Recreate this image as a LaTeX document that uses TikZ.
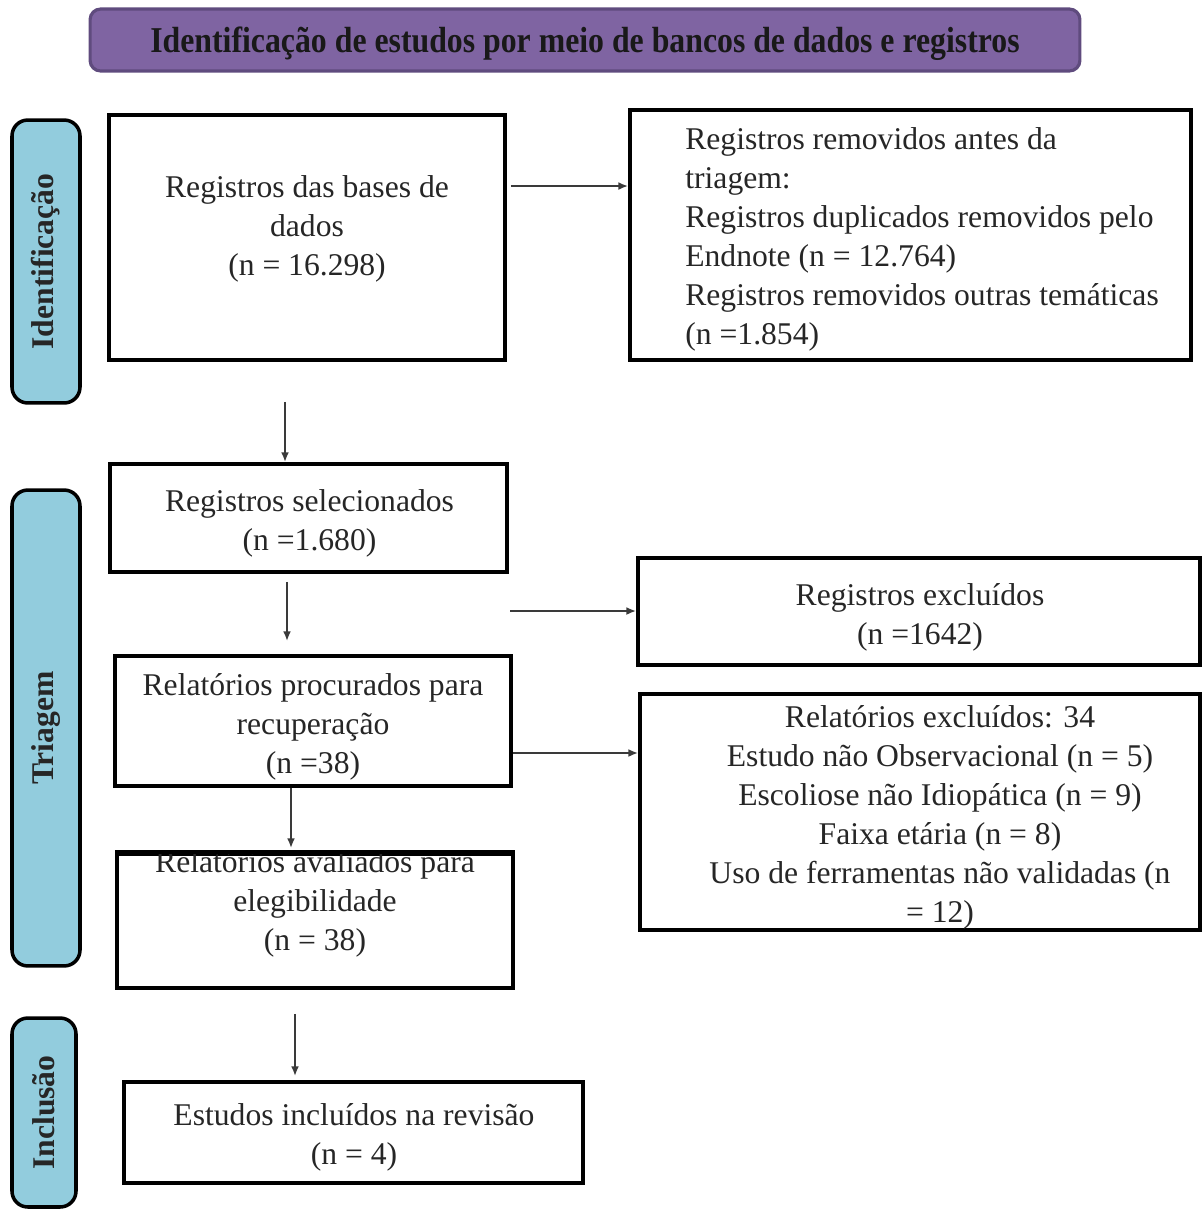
\documentclass[tikz,border=0pt]{standalone}
\usepackage{fontspec}
\setmainfont{Liberation Serif}
\usetikzlibrary{arrows.meta}
\definecolor{headfill}{HTML}{7F64A2}
\definecolor{headline}{HTML}{5F4B7E}
\definecolor{sidefill}{HTML}{92CCDD}
\definecolor{arrgray}{HTML}{3A3A3A}
\tikzset{
  boxline/.style={line width=2.2pt},
  flowbox/.style={boxline, draw=black, fill=none, inner sep=0pt},
  boxtxt/.style={inner sep=0pt, align=center, text=black!85, font=\fontsize{18}{22.2}\selectfont},
  head/.style={draw=headline, fill=headfill, line width=1.8pt, rounded corners=6pt,
    minimum width=19.8cm, minimum height=1.24cm},
  headtxt/.style={inner sep=0pt, font=\fontsize{18}{22}\selectfont\bfseries, text=black!90},
  side/.style={draw=black, fill=sidefill, line width=2pt, rounded corners=9pt, rotate=90,
    font=\fontsize{18}{21}\selectfont\bfseries, text=black!85},
  arr/.style={draw=arrgray, line width=1.1pt, -{Latex[length=5.5pt,width=4.5pt]}},
}

\begin{document}
\begin{tikzpicture}[x=0.02cm,y=-0.02cm]
\useasboundingbox (0,0) rectangle (1204,1211);

\node[head] (titulo) at (585,40) {};
\node[headtxt] (titulotxt) at (585,44) {\scalebox{1.005}[1.15]{Identificação de estudos por meio de bancos de dados e registros}};

\node[side, minimum width=5.66cm, minimum height=1.36cm] (fase1) at (46,261.5) {Identificação};
\node[side, minimum width=9.52cm, minimum height=1.36cm] (fase2) at (46,728) {Triagem};
\node[side, minimum width=3.78cm, minimum height=1.28cm] (fase3) at (44,1112.5) {Inclusão};

\node[flowbox, minimum width=7.92cm, minimum height=4.9cm] (bases) at (307,237.5) {};
\node[boxtxt] (basestxt) at (307,229) {Registros das bases de\\dados\\(n = 16.298)};

\node[flowbox, minimum width=11.22cm, minimum height=5cm] (removidos) at (910.5,235) {};
\node[boxtxt, align=left, anchor=west] (removidostxt) at (685,239) {Registros removidos antes da\\triagem:\\Registros duplicados removidos pelo\\Endnote (n = 12.764)\\Registros removidos outras temáticas\\(n =1.854)};

\node[flowbox, minimum width=7.94cm, minimum height=2.16cm] (selec) at (308.5,518) {};
\node[boxtxt] (selectxt) at (309.5,523.5) {Registros selecionados\\(n =1.680)};

\node[flowbox, minimum width=11.24cm, minimum height=2.14cm] (excl) at (919,611.5) {};
\node[boxtxt] (excltxt) at (920,617) {Registros excluídos\\(n =1642)};

\node[flowbox, minimum width=7.92cm, minimum height=2.6cm] (procur) at (313,721) {};
\node[boxtxt] (procurtxt) at (313,727) {Relatórios procurados para\\recuperação\\(n =38)};

\node[flowbox, minimum width=11.2cm, minimum height=4.72cm] (relexcl) at (920,812) {};
\node[boxtxt] (relexcltxt) at (940,817) {Relatórios excluídos: 34\\Estudo não Observacional (n = 5)\\Escoliose não Idiopática (n = 9)\\Faixa etária (n = 8)\\Uso de ferramentas não validadas (n\\= 12)};

\node[flowbox, minimum width=7.92cm, minimum height=2.68cm] (aval) at (315,921) {};
\begin{scope}
\clip (aval.north west) rectangle (aval.south east);
\node[boxtxt] (avaltxt) at (315,904) {Relatórios avaliados para\\elegibilidade\\(n = 38)};
\end{scope}
\draw[boxline] (aval.north west) -- (aval.north east);

\node[flowbox, minimum width=9.18cm, minimum height=2.02cm] (incl) at (353.5,1132.5) {};
\node[boxtxt] (incltxt) at (354,1137.5) {Estudos incluídos na revisão\\(n = 4)};

\coordinate (p1) at ([xshift=0.08cm,yshift=1.03cm]bases.east);
\draw[arr] (p1) -- (p1 -| removidos.west);
\coordinate (p2) at ([xshift=-0.44cm,yshift=-0.8cm]bases.south);
\draw[arr] (p2) -- (p2 |- selec.north);
\coordinate (p3) at ([xshift=-0.43cm,yshift=-0.16cm]selec.south);
\draw[arr, shorten >=0.26cm] (p3) -- (p3 |- procur.north);
\coordinate (p4) at (510,611);
\draw[arr] (p4) -- (p4 -| excl.west);
\coordinate (p5) at ([yshift=-0.64cm]procur.east);
\draw[arr] (p5) -- (p5 -| relexcl.west);
\coordinate (p6) at ([xshift=-0.44cm]procur.south);
\draw[arr, shorten >=0.08cm] (p6) -- (p6 |- aval.north);
\coordinate (p7) at ([xshift=-0.4cm,yshift=-0.48cm]aval.south);
\draw[arr, shorten >=0.08cm] (p7) -- (p7 |- incl.north);
\end{tikzpicture}
\end{document}
